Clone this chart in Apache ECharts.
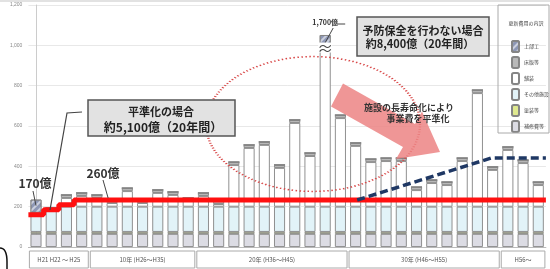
<!DOCTYPE html>
<html>
<head>
<meta charset="utf-8">
<title>更新費用の平準化</title>
<script src="https://cdn.jsdelivr.net/npm/echarts@6/dist/echarts.min.js"></script>
<style>
  html, body { margin: 0; padding: 0; background: #fff; }
  #chart { width: 550px; height: 269px; }
</style>
</head>
<body>
<div id="chart"></div>
<script>
// 年度（34本）
const years = ['H21','H22','H23','H24','H25','H26','H27','H28','H29','H30',
  'H31','H32','H33','H34','H35','H36','H37','H38','H39','H40',
  'H41','H42','H43','H44','H45','H46','H47','H48','H49','H50',
  'H51','H52','H53','H54'];

// 積み上げの内訳（億円）
const repairVals = [65,65,65,65,65,65,65,65,65,65,65,65,65,65,65,65,65,65,65,65,65,65,65,65,65,65,65,65,65,65,65,65,65,65];
const paintVals  = [10,10,10,10,10,10,10,10,10,10,10,10,10,10,10,10,10,10,10,10,10,10,10,10,10,10,10,10,10,10,10,10,10,10];
const otherVals  = [95,105,125,125,125,125,125,125,125,125,125,125,125,125,125,125,125,125,125,125,125,125,125,125,125,125,125,125,125,125,125,125,125,125];
const whiteVals  = [0,0,43,53,43,18,77,18,68,58,28,53,13,206,291,306,192,415,251,776,439,301,221,226,226,82,117,107,226,563,182,281,216,107];
const capVals    = [0,15,15,15,15,15,15,15,15,15,15,15,15,15,15,15,15,15,15,0,15,15,15,15,15,15,15,15,15,15,15,15,15,15];
const hatchVals  = [65,0,0,0,0,0,0,0,0,0,0,0,0,0,0,0,0,0,0,75,0,0,0,0,0,0,0,0,0,0,0,0,0,0];

// 平準化した場合の事業費（赤線）
const levelVals = [160,185,210,233,233,233,233,233,233,233,233,233,233,233,233,233,233,233,233,233,233,233,233,233,233,233,233,233,233,233,233,233,233,233];
// 青破線（折れ点）
const trendX = [21.1, 29.9, 33.5];
const trendY = [233, 441, 441];

// 下部の期間ラベル
const groupNames = ['H21 H22 ～ H25', '10年 (H26～H35)', '20年 (H36～H45)', '30年 (H46～H55)', 'H56～'];
const groupStart = [0, 4, 11, 21, 31];
const groupEnd   = [3, 10, 20, 30, 33];

const yTicks = [0, 200, 400, 600, 800, 1000, 1200];

const F = '"Noto Sans CJK JP", sans-serif';
const chart = echarts.init(document.getElementById('chart'));

function stack(name, data, color, decal) {
  return {
    name: name, type: 'bar', stack: 'cost', data: data, barWidth: 11,
    itemStyle: { color: color, borderColor: '#858585', borderWidth: 0.9, decal: decal },
    emphasis: { disabled: true }, animation: false
  };
}

const hatchDecal = {
  symbol: 'rect', color: 'rgba(255,255,255,0.55)',
  dashArrayX: [1, 0], dashArrayY: [2, 3], rotation: -Math.PI / 4
};

const levelData = [];
levelVals.forEach((v, i) => { levelData.push([i - 0.5, v]); levelData.push([i + 0.5, v]); });

chart.setOption({
  animation: false,
  grid: { left: 28.4, right: 4.1, top: 5, bottom: 22 },
  legend: {
    orient: 'vertical', left: 506, top: 35, itemWidth: 7, itemHeight: 11, itemGap: 3,
    textStyle: { fontSize: 5, color: '#444', fontFamily: F },
    data: ['上部工', '床版等', '舗装', 'その他施設', '塗装等', '補修費等']
  },
  xAxis: [
    { type: 'category', data: years, axisLabel: { show: false }, axisTick: { show: false },
      axisLine: { lineStyle: { color: '#bbb' } } },
    { type: 'value', min: -0.5, max: 33.5, show: false }
  ],
  yAxis: {
    type: 'value', min: 0, max: 1200, interval: 200,
    axisLabel: { fontSize: 5, color: '#888', margin: 6,
      formatter: v => yTicks.includes(v) ? v.toLocaleString('en-US') : '' },
    axisLine: { show: true, lineStyle: { color: '#ccc' } },
    axisTick: { show: false },
    splitLine: { lineStyle: { color: '#e8e8e8' } }
  },
  series: [
    stack('補修費等', repairVals, '#dcdce4'),
    stack('塗装等', paintVals, '#dfe98f'),
    stack('その他施設', otherVals, '#e2f3f8'),
    stack('舗装', whiteVals, '#ffffff'),
    stack('床版等', capVals, '#b8b8b8'),
    stack('上部工', hatchVals, '#8d97b5', hatchDecal),
    { name: '平準化', type: 'line', xAxisIndex: 1, data: levelData, symbol: 'none',
      lineStyle: { color: '#ff1010', width: 5 }, z: 5 },
    { name: '予防保全', type: 'line', xAxisIndex: 1, data: trendX.map((x, i) => [x, trendY[i]]),
      symbol: 'none', lineStyle: { color: '#1f3864', width: 3.5, type: [8, 4] }, z: 6 }
  ]
});

const px = (i, v) => chart.convertToPixel({ xAxisIndex: 0, yAxisIndex: 0 }, [years[i], v]);
const step = px(1, 0)[0] - px(0, 0)[0];
const g = [];

// 上端の枠線
g.push({ type: 'rect', shape: { x: 0, y: 0, width: 550, height: 2 }, style: { fill: '#e2e2e2' }, z: 90 });

// 点線の楕円
g.push({ type: 'circle', x: 313, y: 124, scaleY: 0.63, shape: { cx: 0, cy: 0, r: 107 },
  style: { fill: null, stroke: '#d84848', lineWidth: 2.4, lineDash: [1.5, 2.5], strokeNoScale: true }, z: 100 });

// 矢印
g.push({ type: 'polygon', shape: { points: [[343, 83.5], [415, 124], [422, 111.6], [440, 152], [396, 159], [403, 147], [331, 106.5]] },
  style: { fill: 'rgba(236,132,132,0.85)' }, z: 101 });
g.push({ type: 'text', x: 409, y: 108, style: { text: '施設の長寿命化により', fontSize: 9, fontWeight: 'bold',
  fill: '#333', fontFamily: F, align: 'center', verticalAlign: 'middle' }, z: 102 });
g.push({ type: 'text', x: 418, y: 119, style: { text: '事業費を平準化', fontSize: 9, fontWeight: 'bold',
  fill: '#333', fontFamily: F, align: 'center', verticalAlign: 'middle' }, z: 102 });

// 吹き出し：平準化の場合
g.push({ type: 'rect', shape: { x: 88, y: 100, width: 147, height: 36 },
  style: { fill: '#e2e2e2', stroke: '#555', lineWidth: 1.5 }, z: 103 });
g.push({ type: 'text', x: 161, y: 112, style: { text: '平準化の場合', fontSize: 11, fontWeight: 'bold',
  fill: '#222', fontFamily: F, align: 'center', verticalAlign: 'middle' }, z: 104 });
g.push({ type: 'text', x: 163, y: 127, style: { text: '約5,100億（20年間）', fontSize: 12, fontWeight: 'bold',
  fill: '#222', fontFamily: F, align: 'center', verticalAlign: 'middle' }, z: 104 });
g.push({ type: 'polyline', shape: { points: [[82, 112], [67, 113], [50, 210]] },
  style: { stroke: '#444', lineWidth: 1.2, fill: null }, z: 104 });

// 吹き出し：予防保全を行わない場合
g.push({ type: 'rect', shape: { x: 357, y: 17, width: 132, height: 39 },
  style: { fill: '#e2e2e2', stroke: '#555', lineWidth: 1.5 }, z: 103 });
g.push({ type: 'text', x: 423, y: 31, style: { text: '予防保全を行わない場合', fontSize: 11, fontWeight: 'bold',
  fill: '#222', fontFamily: F, align: 'center', verticalAlign: 'middle' }, z: 104 });
g.push({ type: 'text', x: 420, y: 44, style: { text: '約8,400億（20年間）', fontSize: 11, fontWeight: 'bold',
  fill: '#222', fontFamily: F, align: 'center', verticalAlign: 'middle' }, z: 104 });

// 170億・260億
const p0 = px(0, 235), p5 = px(5, 233);
g.push({ type: 'text', x: 35, y: 183, style: { text: '170億', fontSize: 12, fontWeight: 'bold',
  fill: '#333', fontFamily: F, align: 'center', verticalAlign: 'middle' }, z: 104 });
g.push({ type: 'line', shape: { x1: 33, y1: 191, x2: p0[0], y2: p0[1] + 6 }, style: { stroke: '#444', lineWidth: 1 }, z: 104 });
g.push({ type: 'text', x: 103, y: 173, style: { text: '260億', fontSize: 12, fontWeight: 'bold',
  fill: '#333', fontFamily: F, align: 'center', verticalAlign: 'middle' }, z: 104 });
g.push({ type: 'line', shape: { x1: 103, y1: 180, x2: p5[0] - 4, y2: p5[1] - 2 }, style: { stroke: '#444', lineWidth: 1 }, z: 104 });

// 1,700億（省略表示）
const p19 = px(19, 1066), p19b = px(19, 880);
g.push({ type: 'text', x: p19[0], y: 22, style: { text: '1,700億', fontSize: 7, fontWeight: 'bold',
  fill: '#333', fontFamily: F, align: 'center', verticalAlign: 'middle' }, z: 104 });
g.push({ type: 'line', shape: { x1: p19[0] + 12, y1: 24, x2: p19[0] + 20, y2: 24 }, style: { stroke: '#444', lineWidth: 1 }, z: 104 });
g.push({ type: 'line', shape: { x1: p19[0] + 8, y1: 28, x2: p19[0] - 4, y2: 50 }, style: { stroke: '#444', lineWidth: 1 }, z: 104 });
g.push({ type: 'rect', shape: { x: p19[0] - 7, y: p19b[1] - 27, width: 14, height: 10 }, style: { fill: '#fff' }, z: 104 });
g.push({ type: 'text', x: p19[0], y: p19b[1] - 22, style: { text: '≈', fontSize: 16, fill: '#444',
  fontFamily: F, align: 'center', verticalAlign: 'middle' }, z: 105 });

// 凡例の枠
g.push({ type: 'rect', shape: { x: 498, y: 5, width: 51, height: 128 },
  style: { fill: null, stroke: '#aaa', lineWidth: 1 }, z: 90 });
g.push({ type: 'text', x: 526, y: 23, style: { text: '更新費用の内訳', fontSize: 5, fill: '#444',
  fontFamily: F, align: 'center', verticalAlign: 'middle' }, z: 90 });

// 期間ラベル
groupNames.forEach((name, k) => {
  const a = px(groupStart[k], 0)[0] - step / 2 + 1;
  const b = px(groupEnd[k], 0)[0] + step / 2 - 1;
  g.push({ type: 'rect', shape: { x: a, y: 251, width: b - a, height: 17 },
    style: { fill: '#fff', stroke: '#aaa', lineWidth: 1 }, z: 90 });
  g.push({ type: 'text', x: (a + b) / 2, y: 260, style: { text: name, fontSize: 6, fill: '#555',
    fontFamily: F, align: 'center', verticalAlign: 'middle' }, z: 91 });
});

// 左下の角
g.push({ type: 'bezierCurve', shape: { x1: 0, y1: 248, cpx1: 7, cpy1: 248, x2: 7, y2: 262 },
  style: { stroke: '#111', lineWidth: 1.5, fill: null }, z: 92 });
g.push({ type: 'line', shape: { x1: 7, y1: 262, x2: 7, y2: 269 }, style: { stroke: '#111', lineWidth: 1.5 }, z: 92 });

chart.setOption({ graphic: g });
</script>
</body>
</html>
